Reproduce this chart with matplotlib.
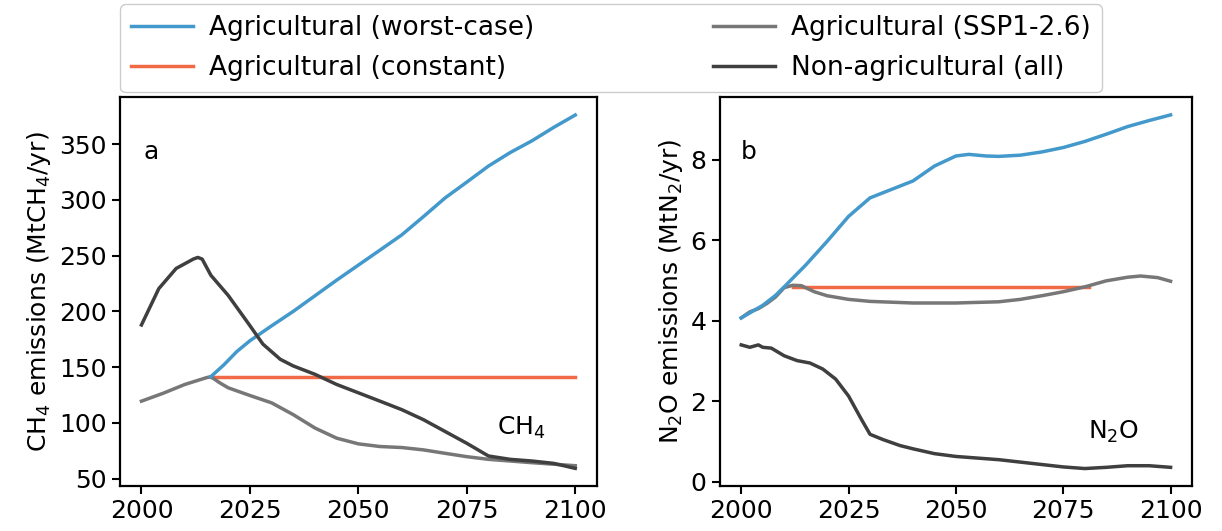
import numpy as np
import matplotlib.pyplot as plt

plt.rcParams['font.family'] = ['DejaVu Sans']
plt.rcParams['font.size'] = 18

C_WORST = '#4499cc'
C_CONST = '#ef6a45'
C_SSP = '#777777'
C_NONAG = '#3f3f3f'

# ---- CH4 (panel a) ----
ch4_worst_yr = [2016, 2019, 2022, 2025, 2030, 2035, 2040, 2045, 2050, 2055, 2060,
                2065, 2070, 2075, 2080, 2085, 2090, 2095, 2100]
ch4_worst = [141.4, 152, 164, 173.6, 187, 200, 214, 228, 241.5, 255, 268.6,
             285, 301.8, 316, 330.4, 342.5, 353, 365, 376.2]

ch4_const_yr = [2016, 2100]
ch4_const = [141.2, 141.2]

ch4_ssp_yr = [2000, 2005, 2010, 2015, 2016, 2018, 2020, 2025, 2030, 2035, 2040, 2045,
              2050, 2055, 2060, 2065, 2070, 2075, 2080, 2090, 2100]
ch4_ssp = [119.4, 126.5, 134.4, 140.5, 141.4, 136, 131.4, 124.5, 117.9, 107.3, 95.3, 86.2,
           81.1, 78.7, 77.8, 75.7, 72.6, 69.6, 67.2, 64.2, 61.5]

ch4_nonag_yr = [2000, 2004, 2008, 2012, 2013, 2014, 2016, 2020, 2025, 2028, 2032, 2035,
                2040, 2045, 2050, 2055, 2060, 2065, 2070, 2075, 2080, 2085, 2090,
                2095, 2100]
ch4_nonag = [187.8, 220.4, 238.5, 247, 248.4, 246.9, 232.4, 214.3, 187.2, 170.6, 157.0, 151,
             143.5, 134.4, 126.9, 119.4, 111.8, 102.8, 92.2, 81.6, 70.2, 67.2, 65.7,
             63.6, 59.1]

# ---- N2O (panel b) ----
n2o_worst_yr = [2000, 2005, 2008, 2010, 2015, 2020, 2025, 2030, 2035, 2040, 2045, 2050,
                2053, 2057, 2060, 2065, 2070, 2075, 2080, 2085, 2090, 2095, 2100]
n2o_worst = [4.07, 4.38, 4.63, 4.84, 5.38, 5.97, 6.59, 7.05, 7.26, 7.47, 7.84, 8.09,
             8.13, 8.09, 8.08, 8.11, 8.19, 8.30, 8.45, 8.63, 8.82, 8.97, 9.11]

n2o_const_yr = [2012, 2081]
n2o_const = [4.84, 4.84]

n2o_ssp_yr = [2000, 2002, 2004, 2006, 2008, 2010, 2012, 2014, 2017, 2020, 2025, 2030,
              2040, 2050, 2060, 2065, 2070, 2075, 2080, 2085, 2090, 2093, 2097, 2100]
n2o_ssp = [4.07, 4.22, 4.30, 4.43, 4.59, 4.82, 4.88, 4.87, 4.72, 4.62, 4.53, 4.48,
           4.44, 4.44, 4.47, 4.53, 4.62, 4.72, 4.84, 4.99, 5.08, 5.11, 5.07, 4.98]

n2o_nonag_yr = [2000, 2002, 2004, 2005, 2007, 2010, 2013, 2016, 2019, 2022, 2025, 2028,
                2030, 2033, 2037, 2040, 2045, 2050, 2060, 2070, 2075, 2080, 2085, 2090,
                2095, 2100]
n2o_nonag = [3.40, 3.34, 3.40, 3.34, 3.32, 3.13, 3.01, 2.95, 2.80, 2.55, 2.13, 1.55,
             1.18, 1.05, 0.90, 0.82, 0.70, 0.63, 0.55, 0.43, 0.37, 0.33, 0.36, 0.40,
             0.40, 0.36]

labels = ['Agricultural (worst-case)', 'Agricultural (constant)',
          'Agricultural (SSP1-2.6)', 'Non-agricultural (all)']

fig = plt.figure(figsize=(12.22, 5.31), dpi=100)
ax1 = fig.add_axes([0.098, 0.085, 0.3905, 0.732])
ax2 = fig.add_axes([0.589, 0.085, 0.3865, 0.732])

lw = 2.5
panels = [
    (ax1, (ch4_worst_yr, ch4_worst), (ch4_const_yr, ch4_const), (ch4_ssp_yr, ch4_ssp),
     (ch4_nonag_yr, ch4_nonag)),
    (ax2, (n2o_worst_yr, n2o_worst), (n2o_const_yr, n2o_const), (n2o_ssp_yr, n2o_ssp),
     (n2o_nonag_yr, n2o_nonag)),
]
handles = []
for ax, worst, const, ssp, nonag in panels:
    h1, = ax.plot(*worst, color=C_WORST, lw=lw, zorder=3)
    h3, = ax.plot(*ssp, color=C_SSP, lw=lw, zorder=2)
    h2, = ax.plot(*const, color=C_CONST, lw=lw, zorder=1)
    h4, = ax.plot(*nonag, color=C_NONAG, lw=lw, zorder=4)
    handles = [h1, h2, h3, h4]
    ax.set_xlim(1995, 2105)
    ax.set_xticks([2000, 2025, 2050, 2075, 2100])
    for s in ax.spines.values():
        s.set_linewidth(1.6)
    ax.tick_params(width=1.5, length=6)

ax1.set_ylim(43.4, 392.2)
ax1.set_yticks([50, 100, 150, 200, 250, 300, 350])
ax2.set_ylim(-0.1, 9.55)
ax2.set_yticks([0, 2, 4, 6, 8])

ax1.set_ylabel('CH$_4$ emissions (MtCH$_4$/yr)')
ax2.set_ylabel('N$_2$O emissions (MtN$_2$/yr)')

ax1.text(0.05, 0.86, 'a', transform=ax1.transAxes, va='center')
ax2.text(0.045, 0.86, 'b', transform=ax2.transAxes, va='center')
ax1.text(0.79, 0.15, 'CH$_4$', transform=ax1.transAxes, va='center')
ax2.text(0.78, 0.14, 'N$_2$O', transform=ax2.transAxes, va='center')

fig.legend(handles, labels, loc='upper center', bbox_to_anchor=(0.5, 0.997), ncol=2,
           fontsize=19, handlelength=2.35, handletextpad=0.6, columnspacing=6.8,
           labelspacing=0.55, borderpad=0.4, borderaxespad=0.1,
           framealpha=1.0, edgecolor='#cccccc')

fig.savefig('out.png', dpi=100)
